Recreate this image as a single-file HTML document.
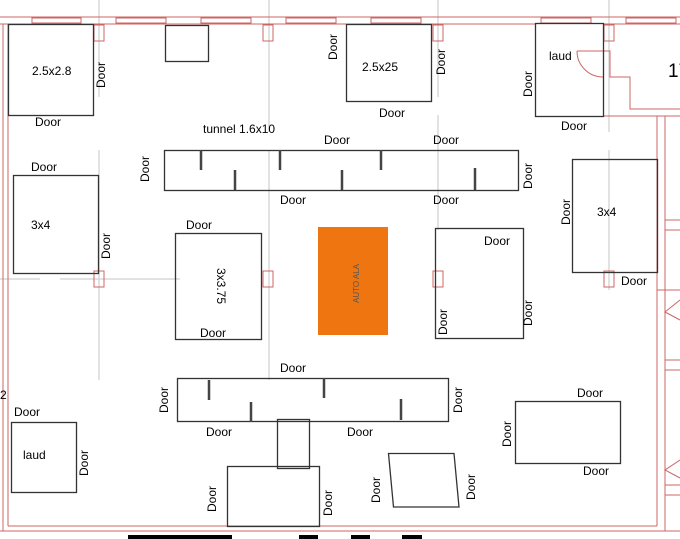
<!DOCTYPE html>
<html><head><meta charset="utf-8"><style>
html,body{margin:0;padding:0;background:#fff}
svg{display:block}
text{font-family:"Liberation Sans",sans-serif;font-size:12px;fill:#000}
</style></head><body>
<svg width="680" height="539" viewBox="0 0 680 539" xmlns="http://www.w3.org/2000/svg">
<g stroke="#d8d8d8" stroke-width="1.5" fill="none">
<line x1="99" y1="0" x2="99" y2="97"/><line x1="99" y1="150" x2="99" y2="380"/>
<line x1="269" y1="0" x2="269" y2="132"/><line x1="269" y1="150" x2="269" y2="380"/>
<line x1="438" y1="0" x2="438" y2="97"/><line x1="438" y1="115" x2="438" y2="230"/>
<line x1="609" y1="0" x2="609" y2="132"/><line x1="609" y1="150" x2="609" y2="290"/>
<line x1="0" y1="279" x2="40" y2="279"/><line x1="60" y1="279" x2="180" y2="279"/>
</g>
<g stroke="#cc6666" stroke-width="1" fill="none">
<line x1="0" y1="17" x2="680" y2="17"/><line x1="0" y1="24" x2="535" y2="24"/>
<line x1="603" y1="24" x2="680" y2="24"/>
<rect x="32" y="18" width="49" height="5"/><rect x="116" y="18" width="50" height="5"/>
<rect x="201" y="18" width="50" height="5"/><rect x="286" y="18" width="50" height="5"/>
<rect x="371" y="18" width="50" height="5"/><rect x="541" y="18" width="50" height="5"/>
<rect x="626" y="18" width="50" height="5"/>
<line x1="3" y1="24" x2="3" y2="531"/><line x1="8" y1="24" x2="8" y2="526"/>
<line x1="8" y1="526" x2="657" y2="526"/><line x1="0" y1="531" x2="680" y2="531"/>
<rect x="94" y="25" width="10" height="16"/><rect x="263" y="25" width="10" height="16"/>
<rect x="433" y="25" width="10" height="16"/><rect x="604" y="25" width="10" height="16"/>
<rect x="94" y="271" width="10" height="16"/><rect x="263" y="271" width="10" height="16"/>
<rect x="433" y="271" width="10" height="16"/><rect x="604" y="271" width="10" height="16"/>
<path d="M603 51 H610 V77 H630 V109 H680"/>
<path d="M577 51 H603 M577 51 A26 26 0 0 0 603 77"/>
<path d="M603 116 H680 M657 116 V526 M665 116 V531"/>
<path d="M665 220 H680 M665 230 H680 M665 360 H680 M665 370 H680 M665 485 H680 M665 495 H680"/>
<path d="M680 300 L665 312 L680 320 M680 460 L665 470 L680 478"/>
<path d="M657 290 H680"/>
</g>
<g stroke="#333" stroke-width="1.3" fill="none">
<rect x="8.5" y="24.5" width="85" height="91"/>
<rect x="165.5" y="25.5" width="43" height="36"/>
<rect x="346.5" y="24.5" width="85" height="77"/>
<rect x="535.5" y="23.5" width="68" height="93"/>
<rect x="13.5" y="175.5" width="85" height="98"/>
<rect x="164.5" y="150.5" width="354" height="40"/>
<rect x="175.5" y="233.5" width="86" height="106"/>
<rect x="435.5" y="228.5" width="88" height="110"/>
<rect x="572.5" y="159.5" width="85" height="113"/>
<rect x="177.5" y="378.5" width="271" height="43"/>
<rect x="11.5" y="422.5" width="65" height="70"/>
<rect x="277.5" y="419.5" width="32" height="49"/>
<rect x="227.5" y="466.5" width="92" height="60"/>
<polygon points="388.5,453.5 454,453.5 459,507 393.5,507"/>
<rect x="515.5" y="401.5" width="105" height="62"/>
</g>
<g stroke="#444" stroke-width="2.5">
<line x1="201" y1="150" x2="201" y2="170"/><line x1="280" y1="150" x2="280" y2="170"/>
<line x1="381" y1="150" x2="381" y2="170"/><line x1="235" y1="170" x2="235" y2="190"/>
<line x1="342" y1="170" x2="342" y2="190"/><line x1="475" y1="168" x2="475" y2="190"/>
<line x1="209" y1="380" x2="209" y2="400"/><line x1="251" y1="402" x2="251" y2="422"/>
<line x1="324" y1="378" x2="324" y2="398"/><line x1="401" y1="399" x2="401" y2="420"/>
</g>
<rect x="318" y="227" width="70" height="108" fill="#ef7510"/>
<g fill="#000">
<rect x="128" y="535" width="104" height="4"/><rect x="299" y="535" width="19" height="4"/>
<rect x="351" y="535" width="19" height="4"/><rect x="402" y="535" width="20" height="4"/>
</g>
<text x="32" y="75">2.5x2.8</text>
<text x="362" y="71">2.5x25</text>
<text x="549" y="60">laud</text>
<text x="668" y="77" style="font-size:19px">17</text>
<text x="31" y="229">3x4</text>
<text x="597" y="216">3x4</text>
<text x="23" y="459">laud</text>
<text x="0" y="399">2</text>
<text x="203" y="133">tunnel 1.6x10</text>
<text x="0" y="0" transform="translate(217,268) rotate(90)">3x3.75</text>
<text x="0" y="0" transform="translate(359,303) rotate(-90)" style="font-size:8px;fill:#555">AUTO ALA</text>
<g>
<text x="35" y="126">Door</text><text x="31" y="171">Door</text><text x="186" y="229">Door</text>
<text x="324" y="144">Door</text><text x="433" y="144">Door</text>
<text x="280" y="204">Door</text><text x="433" y="204">Door</text>
<text x="379" y="117">Door</text><text x="561" y="130">Door</text>
<text x="484" y="245">Door</text><text x="621" y="285">Door</text>
<text x="200" y="337">Door</text><text x="280" y="372">Door</text>
<text x="206" y="436">Door</text><text x="347" y="436">Door</text>
<text x="14" y="416">Door</text>
<text x="577" y="397">Door</text><text x="583" y="475">Door</text>
</g>
<g>
<text transform="translate(105,88) rotate(-90)">Door</text>
<text transform="translate(337,60) rotate(-90)">Door</text>
<text transform="translate(445,75) rotate(-90)">Door</text>
<text transform="translate(532,97) rotate(-90)">Door</text>
<text transform="translate(149,182) rotate(-90)">Door</text>
<text transform="translate(532,189) rotate(-90)">Door</text>
<text transform="translate(570,225) rotate(-90)">Door</text>
<text transform="translate(110,259) rotate(-90)">Door</text>
<text transform="translate(447,335) rotate(-90)">Door</text>
<text transform="translate(532,326) rotate(-90)">Door</text>
<text transform="translate(168,413) rotate(-90)">Door</text>
<text transform="translate(462,413) rotate(-90)">Door</text>
<text transform="translate(88,476) rotate(-90)">Door</text>
<text transform="translate(511,447) rotate(-90)">Door</text>
<text transform="translate(216,512) rotate(-90)">Door</text>
<text transform="translate(332,516) rotate(-90)">Door</text>
<text transform="translate(380,503) rotate(-90)">Door</text>
<text transform="translate(475,500) rotate(-90)">Door</text>
</g>
</svg>
</body></html>
